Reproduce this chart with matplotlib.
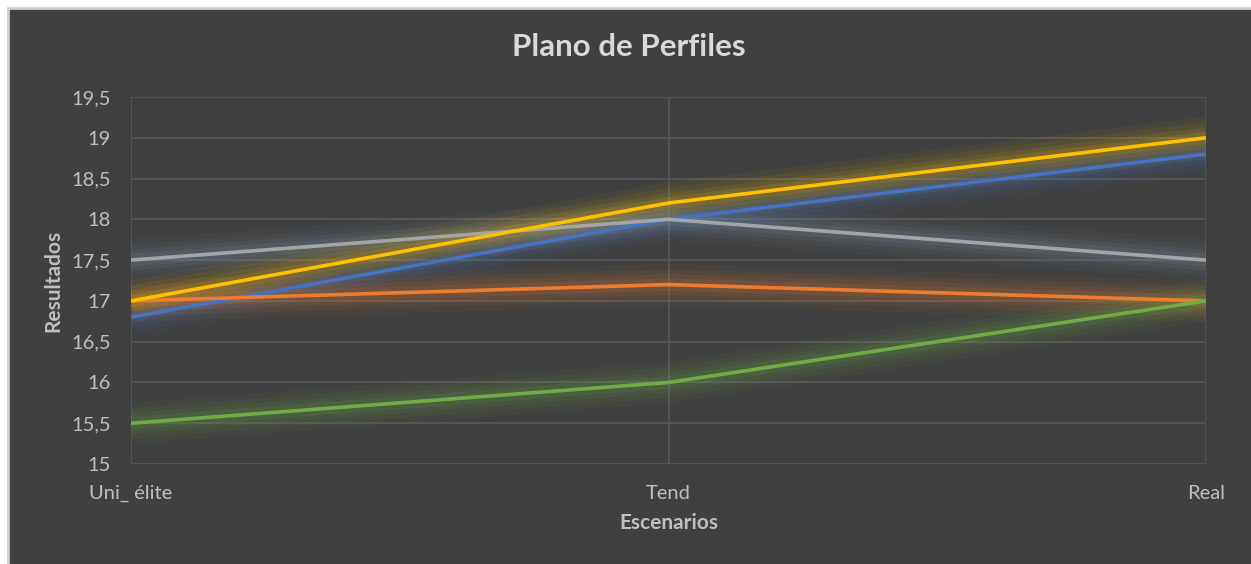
import matplotlib.pyplot as plt
from matplotlib.patches import Rectangle
from matplotlib.ticker import FuncFormatter

escenarios = ['Uni_ élite', 'Tend', 'Real']
serie_1 = [16.8, 18.0, 18.8]   # azul
serie_2 = [17.0, 17.2, 17.0]   # naranja
serie_3 = [17.5, 18.0, 17.5]   # gris
serie_4 = [17.0, 18.2, 19.0]   # amarillo
serie_5 = [15.5, 16.0, 17.0]   # verde
colores = ['#4472C4', '#ED7D31', '#A5A5A5', '#FFC000', '#70AD47']
brillo = ['#4472C4', '#ED7D31', '#7f9ab5', '#FFC000', '#70AD47']
y_ticks = [15, 15.5, 16, 16.5, 17, 17.5, 18, 18.5, 19, 19.5]

plt.rcParams['font.family'] = ['Lato', 'DejaVu Sans']

fig = plt.figure(figsize=(12.51, 5.64), dpi=100)
fig.patch.set_facecolor('white')
# fondo oscuro del grafico con borde claro
fig.patches.append(Rectangle((8 / 1251, -0.01), 1.0, 1 - 8 / 564 + 0.01,
                             transform=fig.transFigure, facecolor='#404040',
                             edgecolor='#cfcfcf', linewidth=2, zorder=-10))

ax = fig.add_axes([131 / 1251, 1 - 464 / 564, (1206 - 131) / 1251, (464 - 97) / 564])
ax.set_facecolor('none')

x = list(range(len(escenarios)))
series = [serie_1, serie_2, serie_3, serie_4, serie_5]

# brillo (glow) alrededor de cada linea
for s, c in zip(series, brillo):
    for w, a in [(30, 0.05), (22, 0.07), (15, 0.09), (9, 0.12)]:
        ax.plot(x, s, color=c, linewidth=w, alpha=a, solid_capstyle='butt', zorder=2)
for s, c in zip(series, colores):
    ax.plot(x, s, color=c, linewidth=2.6, solid_capstyle='butt', zorder=3)

ax.set_xlim(0, 2)
ax.set_ylim(15, 19.5)
ax.set_xticks(x)
ax.set_xticklabels(escenarios)
ax.set_yticks(y_ticks)
ax.yaxis.set_major_formatter(FuncFormatter(lambda v, p: ('%g' % v).replace('.', ',')))

ax.grid(True, color='#575757', linewidth=1.3, zorder=1)
ax.set_axisbelow(True)
for sp in ax.spines.values():
    sp.set_visible(False)
ax.tick_params(length=0, colors='#bfbfbf', labelsize=14.5)
ax.tick_params(axis='y', pad=14.5)
ax.tick_params(axis='x', pad=15)

fig.text(629 / 1251, 1 - 47 / 564, 'Plano de Perfiles', color='#d9d9d9', fontsize=22.5,
         fontweight='bold', ha='center', va='center')
ax.set_xlabel('Escenarios', color='#bfbfbf', fontsize=15, fontweight='bold', labelpad=8)
ax.set_ylabel('Resultados', color='#bfbfbf', fontsize=15, fontweight='bold', labelpad=6)

plt.savefig('out.png', dpi=100, facecolor=fig.get_facecolor())
